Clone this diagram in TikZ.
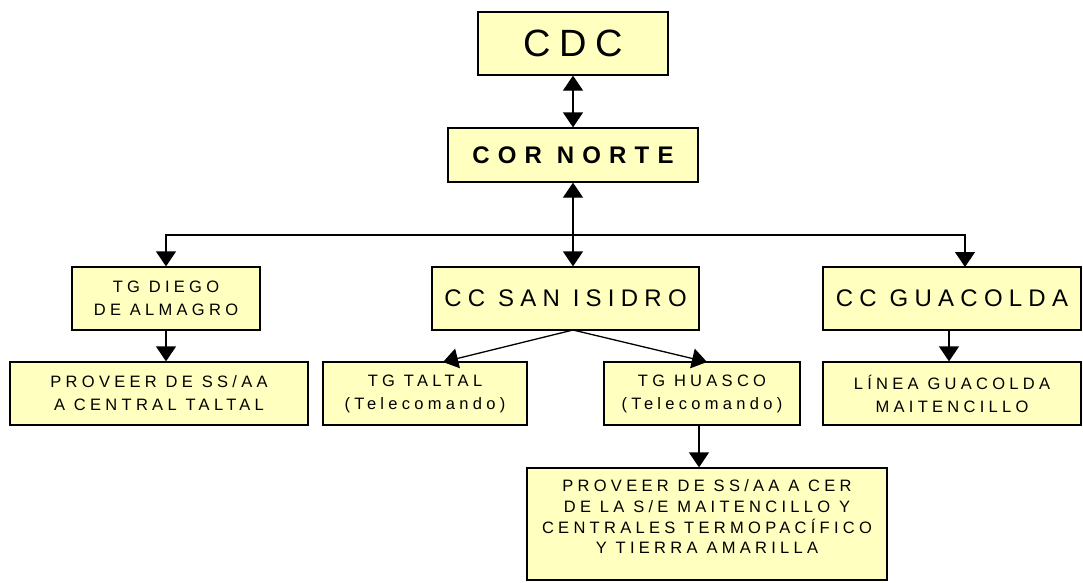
\documentclass[tikz,border=0pt]{standalone}
\usepackage{fontspec}
\setmainfont{Liberation Sans}
\newfontfamily\lsfont[LetterSpace=26]{Liberation Sans}
\newfontfamily\lsbig[LetterSpace=22]{Liberation Sans}
\newfontfamily\lsbold[LetterSpace=34]{Liberation Sans}
\usetikzlibrary{arrows.meta,calc}
\definecolor{boxfill}{HTML}{FFFFC0}
\tikzset{
  box/.style={draw=black, line width=1.3pt, fill=boxfill, rectangle, inner sep=0pt, align=center},
  small/.style={font=\lsfont\fontsize{16.5pt}{23pt}\selectfont},
  mid/.style={font=\lsfont\fontsize{24pt}{28pt}\selectfont},
  conn/.style={line width=1.3pt, -{Triangle[width=20pt,length=15pt]}},
  dconn/.style={line width=1.3pt, {Triangle[width=20pt,length=15pt]}-{Triangle[width=20pt,length=15pt]}}
}
\begin{document}
\begin{tikzpicture}[x=1pt,y=-1pt]
\useasboundingbox (0,0) rectangle (1083,582);
% nodes
\node[box, minimum width=190pt, minimum height=63pt, font=\lsbig\fontsize{38pt}{44pt}\selectfont] (cdc) at (573,43.5) {CDC};
\node[box, minimum width=250pt, minimum height=54pt, font=\lsbold\bfseries\fontsize{24pt}{28pt}\selectfont] (cor) at (573,155) {COR NORTE};
\node[box, small, minimum width=188pt, minimum height=63pt] (diego) at (166,298.5) {TG DIEGO\\DE ALMAGRO};
\node[box, mid, minimum width=267pt, minimum height=63pt] (san) at (565.5,298.5) {CC SAN ISIDRO};
\node[box, mid, minimum width=258pt, minimum height=63pt] (guac) at (952,298.5) {CC GUACOLDA};
\node[box, small, minimum width=298pt, minimum height=63pt] (prov1) at (159,393.5) {PROVEER DE SS/AA\\A CENTRAL TALTAL};
\node[box, small, minimum width=204pt, minimum height=63pt] (taltal) at (425,393.5) {TG TALTAL\\(Telecomando)};
\node[box, small, minimum width=196pt, minimum height=63pt] (huasco) at (702,393.5) {TG HUASCO\\(Telecomando)};
\node[box, small, minimum width=258pt, minimum height=63pt] (linea) at (952,393.5) {LÍNEA GUACOLDA\\MAITENCILLO};
\node[box, minimum width=360pt, minimum height=112pt] (prov2) at (707,524) {};
\node[font=\lsfont\fontsize{16.5pt}{20.8pt}\selectfont, anchor=north, align=center, inner sep=0pt] (prov2t) at ($(prov2.north)+(0,12)$) {PROVEER DE SS/AA A CER\\DE LA S/E MAITENCILLO Y\\CENTRALES TERMOPACÍFICO\\Y TIERRA AMARILLA};
% connectors
\coordinate (j) at (573,235);
\coordinate (gtop) at (965,267);
\coordinate (sanb) at (573,330);
\coordinate (taltop) at (443,362);
\coordinate (huatop) at (707,362);
\coordinate (guacb) at (949,330);
\coordinate (huab) at (699,425);
\draw[dconn] (cdc.south) -- (cor.north);
\draw[dconn] (cor.south) -- (cor.south |- san.north);
\draw[conn] (j) -| (diego.north);
\draw[conn] (j) -| (gtop);
\draw[conn] (diego.south) -- (diego.south |- prov1.north);
\draw[conn] (sanb) -- (taltop);
\draw[conn] (sanb) -- (huatop);
\draw[conn] (guacb) -- (guacb |- linea.north);
\draw[conn] (huab) -- (huab |- prov2.north);
\end{tikzpicture}
\end{document}
